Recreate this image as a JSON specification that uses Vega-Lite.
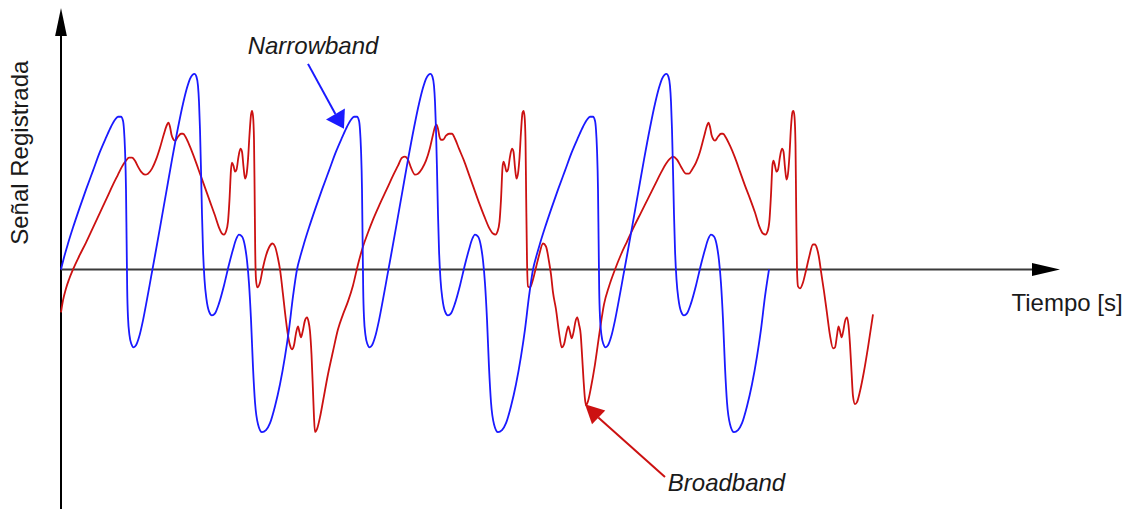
{
  "$schema": "https://vega.github.io/schema/vega-lite/v6.json",
  "width": 1138,
  "height": 510,
  "padding": 0,
  "autosize": {"type": "fit", "contains": "padding"},
  "background": "white",
  "config": {"view": {"stroke": null}},
  "datasets": {
    "blue": [
      {"t":0,"v":0},{"t":3,"v":12},{"t":7,"v":26},{"t":12,"v":42},{"t":18,"v":60},{"t":25,"v":80},{"t":32,"v":99},{"t":39,"v":118},{"t":45,"v":132},{"t":50,"v":143},{"t":54,"v":150},{"t":57,"v":153},{"t":60,"v":153},{"t":62,"v":149},{"t":63,"v":140},{"t":64,"v":120},{"t":65,"v":80},{"t":65.6,"v":30},{"t":66.2,"v":-20},{"t":67,"v":-48},{"t":68.5,"v":-66},{"t":70.5,"v":-75},{"t":72.5,"v":-78},{"t":75,"v":-76},{"t":78,"v":-68},{"t":82,"v":-51},{"t":86,"v":-30},{"t":90,"v":-8},{"t":94,"v":14},{"t":99,"v":42},{"t":105,"v":76},{"t":111,"v":110},{"t":117,"v":142},{"t":122,"v":166},{"t":126,"v":182},{"t":129,"v":191},{"t":131.5,"v":195},{"t":133.5,"v":196},{"t":135.5,"v":193},{"t":137,"v":184},{"t":138,"v":168},{"t":139,"v":140},{"t":140,"v":100},{"t":141,"v":55},{"t":142,"v":20},{"t":143.5,"v":-10},{"t":145.5,"v":-30},{"t":148,"v":-42},{"t":151,"v":-46},{"t":154,"v":-44},{"t":158,"v":-34},{"t":163,"v":-16},{"t":168,"v":5},{"t":172,"v":20},{"t":175,"v":30},{"t":178,"v":35},{"t":181,"v":33},{"t":184,"v":23},{"t":186,"v":9},{"t":188,"v":-14},{"t":190,"v":-50},{"t":192,"v":-98},{"t":194,"v":-133},{"t":197,"v":-155},{"t":201,"v":-163},{"t":205,"v":-161},{"t":209,"v":-154},{"t":214,"v":-137},{"t":219,"v":-115},{"t":224,"v":-87},{"t":228,"v":-60},{"t":232,"v":-27},{"t":236,"v":0},
      {"t":239,"v":12},{"t":243,"v":26},{"t":248,"v":42},{"t":254,"v":60},{"t":261,"v":80},{"t":268,"v":99},{"t":275,"v":118},{"t":281,"v":132},{"t":286,"v":143},{"t":290,"v":150},{"t":293,"v":153},{"t":296,"v":153},{"t":298,"v":149},{"t":299,"v":140},{"t":300,"v":120},{"t":301,"v":80},{"t":301.6,"v":30},{"t":302.2,"v":-20},{"t":303,"v":-48},{"t":304.5,"v":-66},{"t":306.5,"v":-75},{"t":308.5,"v":-78},{"t":311,"v":-76},{"t":314,"v":-68},{"t":318,"v":-51},{"t":322,"v":-30},{"t":326,"v":-8},{"t":330,"v":14},{"t":335,"v":42},{"t":341,"v":76},{"t":347,"v":110},{"t":353,"v":142},{"t":358,"v":166},{"t":362,"v":182},{"t":365,"v":191},{"t":367.5,"v":195},{"t":369.5,"v":196},{"t":371.5,"v":193},{"t":373,"v":184},{"t":374,"v":168},{"t":375,"v":140},{"t":376,"v":100},{"t":377,"v":55},{"t":378,"v":20},{"t":379.5,"v":-10},{"t":381.5,"v":-30},{"t":384,"v":-42},{"t":387,"v":-46},{"t":390,"v":-44},{"t":394,"v":-34},{"t":399,"v":-16},{"t":404,"v":5},{"t":408,"v":20},{"t":411,"v":30},{"t":414,"v":35},{"t":417,"v":33},{"t":420,"v":23},{"t":422,"v":9},{"t":424,"v":-14},{"t":426,"v":-50},{"t":428,"v":-98},{"t":430,"v":-133},{"t":433,"v":-155},{"t":437,"v":-163},{"t":441,"v":-161},{"t":445,"v":-154},{"t":450,"v":-137},{"t":455,"v":-115},{"t":460,"v":-87},{"t":464,"v":-60},{"t":468,"v":-27},{"t":472,"v":0},
      {"t":475,"v":12},{"t":479,"v":26},{"t":484,"v":42},{"t":490,"v":60},{"t":497,"v":80},{"t":504,"v":99},{"t":511,"v":118},{"t":517,"v":132},{"t":522,"v":143},{"t":526,"v":150},{"t":529,"v":153},{"t":532,"v":153},{"t":534,"v":149},{"t":535,"v":140},{"t":536,"v":120},{"t":537,"v":80},{"t":537.6,"v":30},{"t":538.2,"v":-20},{"t":539,"v":-48},{"t":540.5,"v":-66},{"t":542.5,"v":-75},{"t":544.5,"v":-78},{"t":547,"v":-76},{"t":550,"v":-68},{"t":554,"v":-51},{"t":558,"v":-30},{"t":562,"v":-8},{"t":566,"v":14},{"t":571,"v":42},{"t":577,"v":76},{"t":583,"v":110},{"t":589,"v":142},{"t":594,"v":166},{"t":598,"v":182},{"t":601,"v":191},{"t":603.5,"v":195},{"t":605.5,"v":196},{"t":607.5,"v":193},{"t":609,"v":184},{"t":610,"v":168},{"t":611,"v":140},{"t":612,"v":100},{"t":613,"v":55},{"t":614,"v":20},{"t":615.5,"v":-10},{"t":617.5,"v":-30},{"t":620,"v":-42},{"t":623,"v":-46},{"t":626,"v":-44},{"t":630,"v":-34},{"t":635,"v":-16},{"t":640,"v":5},{"t":644,"v":20},{"t":647,"v":30},{"t":650,"v":35},{"t":653,"v":33},{"t":656,"v":23},{"t":658,"v":9},{"t":660,"v":-14},{"t":662,"v":-50},{"t":664,"v":-98},{"t":666,"v":-133},{"t":669,"v":-155},{"t":673,"v":-163},{"t":677,"v":-161},{"t":681,"v":-154},{"t":686,"v":-137},{"t":691,"v":-115},{"t":696,"v":-87},{"t":700,"v":-60},{"t":704,"v":-27},{"t":708,"v":0}
    ],
    "red": [
      {"t":0,"v":-43},{"t":2,"v":-31},{"t":5,"v":-19},{"t":8,"v":-10},{"t":12,"v":0},{"t":18,"v":13},{"t":25,"v":27},{"t":32,"v":42},{"t":39,"v":57},{"t":46,"v":72},{"t":52,"v":85},{"t":57,"v":95},{"t":61,"v":103},{"t":65,"v":109},{"t":68,"v":112},{"t":71,"v":112},{"t":74,"v":109},{"t":77,"v":103},{"t":80,"v":98},{"t":84,"v":95},{"t":87,"v":96},{"t":91,"v":101},{"t":95,"v":110},{"t":99,"v":122},{"t":103,"v":136},{"t":106,"v":145},{"t":107.5,"v":147},{"t":109,"v":143},{"t":110.5,"v":135},{"t":112,"v":131},{"t":114,"v":129},{"t":117,"v":133},{"t":120,"v":136},{"t":122,"v":136},{"t":125,"v":132},{"t":129,"v":123},{"t":134,"v":110},{"t":139,"v":96},{"t":144,"v":82},{"t":149,"v":68},{"t":154,"v":54},{"t":158,"v":42},{"t":161,"v":36},{"t":163,"v":35},{"t":165,"v":38},{"t":167,"v":48},{"t":168.5,"v":70},{"t":170,"v":100},{"t":171,"v":107},{"t":172.5,"v":104},{"t":174,"v":98},{"t":175.5,"v":100},{"t":177.5,"v":113},{"t":179.5,"v":121},{"t":181,"v":118},{"t":182.5,"v":103},{"t":184,"v":91},{"t":185.5,"v":95},{"t":187,"v":110},{"t":188.5,"v":135},{"t":190,"v":155},{"t":191,"v":159},{"t":192,"v":154},{"t":193,"v":130},{"t":193.6,"v":80},{"t":194.2,"v":20},{"t":195,"v":-10},{"t":196.3,"v":-18},{"t":199,"v":-13},{"t":202,"v":2},{"t":205,"v":14},{"t":208,"v":22},{"t":211.5,"v":26},{"t":214,"v":23},{"t":217,"v":11},{"t":219,"v":0},{"t":222,"v":-25},{"t":224,"v":-43},{"t":227,"v":-66},{"t":229,"v":-76},{"t":231,"v":-80},{"t":233,"v":-76},{"t":235,"v":-64},{"t":237,"v":-57},{"t":238.5,"v":-63},{"t":240,"v":-68},{"t":241.5,"v":-63},{"t":244,"v":-51},{"t":246,"v":-48},{"t":247.5,"v":-52},{"t":249,"v":-62},{"t":250.5,"v":-85},{"t":252,"v":-122},{"t":253,"v":-148},{"t":254,"v":-163},{"t":256,"v":-160},{"t":259,"v":-148},{"t":262,"v":-132},{"t":267,"v":-105},{"t":272,"v":-82},{"t":277,"v":-60},{"t":282,"v":-45},{"t":287,"v":-32},{"t":292,"v":-16},{"t":297,"v":5},{"t":302,"v":23},{"t":307,"v":37},{"t":312,"v":50},{"t":319,"v":66},{"t":326,"v":81},{"t":332,"v":94},{"t":337,"v":104},{"t":341,"v":112},{"t":344,"v":113},{"t":347,"v":110},{"t":350,"v":102},{"t":354,"v":95},{"t":357,"v":96},{"t":361,"v":101},{"t":365,"v":109},{"t":369,"v":122},{"t":372,"v":135},{"t":374,"v":143},{"t":375.5,"v":145},{"t":377,"v":141},{"t":378.5,"v":133},{"t":380,"v":130},{"t":382,"v":130},{"t":385,"v":134},{"t":388,"v":136},{"t":391,"v":136},{"t":394,"v":131},{"t":398,"v":121},{"t":403,"v":109},{"t":408,"v":95},{"t":413,"v":81},{"t":418,"v":67},{"t":423,"v":54},{"t":428,"v":42},{"t":432,"v":36},{"t":434.5,"v":35},{"t":436.5,"v":38},{"t":438.5,"v":48},{"t":440,"v":70},{"t":441.5,"v":102},{"t":442.5,"v":108},{"t":444,"v":104},{"t":445.5,"v":98},{"t":447,"v":100},{"t":449,"v":113},{"t":451,"v":121},{"t":452.5,"v":118},{"t":454,"v":102},{"t":455.5,"v":91},{"t":457,"v":96},{"t":458.5,"v":112},{"t":460,"v":138},{"t":461.5,"v":157},{"t":462.5,"v":159},{"t":463.5,"v":154},{"t":464.5,"v":130},{"t":465.2,"v":70},{"t":466,"v":10},{"t":467,"v":-17},{"t":469,"v":-18},{"t":472,"v":-10},{"t":475,"v":2},{"t":478,"v":14},{"t":482,"v":26},{"t":485,"v":23},{"t":488,"v":8},{"t":490,"v":-5},{"t":492,"v":-23},{"t":495,"v":-40},{"t":498,"v":-63},{"t":500.7,"v":-78},{"t":503,"v":-75},{"t":505.5,"v":-63},{"t":507.3,"v":-57},{"t":509,"v":-63},{"t":510.7,"v":-69},{"t":512.5,"v":-63},{"t":514.5,"v":-52},{"t":516.3,"v":-48},{"t":518,"v":-55},{"t":519.7,"v":-65},{"t":521,"v":-85},{"t":522.5,"v":-110},{"t":524,"v":-130},{"t":525,"v":-136},{"t":527,"v":-132},{"t":530,"v":-118},{"t":534,"v":-95},{"t":539,"v":-60},{"t":543,"v":-35},{"t":548,"v":-17},{"t":554,"v":0},{"t":560,"v":15},{"t":566,"v":28},{"t":573,"v":43},{"t":580,"v":57},{"t":587,"v":71},{"t":594,"v":85},{"t":600,"v":97},{"t":605,"v":106},{"t":609,"v":111},{"t":612,"v":113},{"t":616,"v":110},{"t":620,"v":103},{"t":625,"v":96},{"t":628,"v":96},{"t":631,"v":100},{"t":635,"v":107},{"t":639,"v":118},{"t":643,"v":133},{"t":646,"v":144},{"t":647.5,"v":147},{"t":649,"v":143},{"t":650.5,"v":135},{"t":652,"v":131},{"t":654,"v":129},{"t":657,"v":133},{"t":660,"v":136},{"t":662,"v":136},{"t":665,"v":132},{"t":669,"v":124},{"t":674,"v":112},{"t":679,"v":98},{"t":684,"v":84},{"t":689,"v":71},{"t":694,"v":57},{"t":698,"v":44},{"t":702,"v":36},{"t":704.5,"v":35},{"t":706.5,"v":38},{"t":708.5,"v":50},{"t":710,"v":75},{"t":711.5,"v":105},{"t":712.5,"v":109},{"t":714,"v":104},{"t":715.5,"v":98},{"t":717,"v":100},{"t":719,"v":113},{"t":721,"v":121},{"t":722.5,"v":118},{"t":724,"v":102},{"t":725.5,"v":90},{"t":727,"v":96},{"t":728.5,"v":115},{"t":730,"v":143},{"t":731.5,"v":158},{"t":732.5,"v":159},{"t":733.5,"v":153},{"t":734.5,"v":125},{"t":735.2,"v":60},{"t":736,"v":0},{"t":737,"v":-17},{"t":739,"v":-19},{"t":742,"v":-13},{"t":745,"v":-1},{"t":748,"v":12},{"t":752,"v":25},{"t":754,"v":25},{"t":756,"v":21},{"t":758,"v":12},{"t":760,"v":-2},{"t":763,"v":-22},{"t":766,"v":-44},{"t":769,"v":-66},{"t":772,"v":-79},{"t":774,"v":-78},{"t":776,"v":-66},{"t":777.5,"v":-57},{"t":779,"v":-62},{"t":780.5,"v":-68},{"t":782,"v":-63},{"t":784,"v":-52},{"t":786,"v":-48},{"t":787.5,"v":-56},{"t":789,"v":-75},{"t":790.5,"v":-102},{"t":792,"v":-127},{"t":794,"v":-135},{"t":796,"v":-133},{"t":799,"v":-122},{"t":803,"v":-102},{"t":807,"v":-78},{"t":812,"v":-45}
    ]
  },
  "layer": [
    {
      "data": {"values": [{"t": 0, "v": -240, "t2": 0, "v2": 234}]},
      "mark": {"type": "rule", "color": "#000000", "strokeWidth": 2},
      "encoding": {
        "x": {"field": "t", "type": "quantitative", "scale": {"domain": [-61, 1077], "nice": false, "zero": false}, "axis": null},
        "y": {"field": "v", "type": "quantitative", "scale": {"domain": [-240, 270], "nice": false, "zero": false}, "axis": null},
        "x2": {"field": "t2"},
        "y2": {"field": "v2"}
      }
    },
    {
      "data": {"values": [{"t": 0, "v": 0, "t2": 973, "v2": 0}]},
      "mark": {"type": "rule", "color": "#3a3a3a", "strokeWidth": 2},
      "encoding": {
        "x": {"field": "t", "type": "quantitative"},
        "y": {"field": "v", "type": "quantitative"},
        "x2": {"field": "t2"},
        "y2": {"field": "v2"}
      }
    },
    {
      "data": {"values": [{"t": 0, "v": 248}]},
      "mark": {"type": "point", "shape": "M0,-1L0.42,1L-0.42,1Z", "size": 784, "filled": true, "color": "#000000", "opacity": 1, "strokeWidth": 0},
      "encoding": {"x": {"field": "t", "type": "quantitative"}, "y": {"field": "v", "type": "quantitative"}}
    },
    {
      "data": {"values": [{"t": 985, "v": 0}]},
      "mark": {"type": "point", "shape": "M1,0L-1,0.46L-1,-0.46Z", "size": 784, "filled": true, "color": "#000000", "opacity": 1, "strokeWidth": 0},
      "encoding": {"x": {"field": "t", "type": "quantitative"}, "y": {"field": "v", "type": "quantitative"}}
    },
    {
      "data": {"name": "red"},
      "mark": {"type": "line", "color": "#cc1111", "strokeWidth": 1.8, "interpolate": "monotone"},
      "encoding": {"x": {"field": "t", "type": "quantitative"}, "y": {"field": "v", "type": "quantitative"}, "order": {"field": "t", "type": "quantitative"}}
    },
    {
      "data": {"name": "blue"},
      "mark": {"type": "line", "color": "#1a1aff", "strokeWidth": 1.8, "interpolate": "monotone"},
      "encoding": {"x": {"field": "t", "type": "quantitative"}, "y": {"field": "v", "type": "quantitative"}, "order": {"field": "t", "type": "quantitative"}}
    },
    {
      "data": {"values": [{"t": 247, "v": 206, "t2": 274.4, "v2": 155.7}]},
      "mark": {"type": "rule", "color": "#1a1aff", "strokeWidth": 2},
      "encoding": {"x": {"field": "t", "type": "quantitative"}, "y": {"field": "v", "type": "quantitative"}, "x2": {"field": "t2"}, "y2": {"field": "v2"}}
    },
    {
      "data": {"values": [{"t": 278.7, "v": 148.4}]},
      "mark": {"type": "point", "shape": "M0,-1L1.28,1L-1.28,1Z", "size": 289, "angle": 150, "filled": true, "color": "#1a1aff", "opacity": 1, "strokeWidth": 0},
      "encoding": {"x": {"field": "t", "type": "quantitative"}, "y": {"field": "v", "type": "quantitative"}}
    },
    {
      "data": {"values": [{"t": 604, "v": -208, "t2": 537.3, "v2": -148.3}]},
      "mark": {"type": "rule", "color": "#cc1111", "strokeWidth": 2},
      "encoding": {"x": {"field": "t", "type": "quantitative"}, "y": {"field": "v", "type": "quantitative"}, "x2": {"field": "t2"}, "y2": {"field": "v2"}}
    },
    {
      "data": {"values": [{"t": 530.8, "v": -141.6}]},
      "mark": {"type": "point", "shape": "M0,-1L1,1L-1,1Z", "size": 361, "angle": 314, "filled": true, "color": "#cc1111", "opacity": 1, "strokeWidth": 0},
      "encoding": {"x": {"field": "t", "type": "quantitative"}, "y": {"field": "v", "type": "quantitative"}}
    },
    {
      "data": {"values": [{"t": 252, "v": 216, "label": "Narrowband"}, {"t": 665.5, "v": -222, "label": "Broadband"}]},
      "mark": {"type": "text", "font": "Liberation Sans", "fontSize": 24, "fontStyle": "italic", "color": "#1a1a1a", "align": "center", "baseline": "alphabetic"},
      "encoding": {"x": {"field": "t", "type": "quantitative"}, "y": {"field": "v", "type": "quantitative"}, "text": {"field": "label"}}
    },
    {
      "data": {"values": [{"t": 1006, "v": -42, "label": "Tiempo [s]"}]},
      "mark": {"type": "text", "font": "Liberation Sans", "fontSize": 24, "color": "#1a1a1a", "align": "center", "baseline": "alphabetic"},
      "encoding": {"x": {"field": "t", "type": "quantitative"}, "y": {"field": "v", "type": "quantitative"}, "text": {"field": "label"}}
    },
    {
      "data": {"values": [{"t": -33.5, "v": 117, "label": "Señal Registrada"}]},
      "mark": {"type": "text", "font": "Liberation Sans", "fontSize": 24, "angle": 270, "color": "#1a1a1a", "align": "center", "baseline": "alphabetic"},
      "encoding": {"x": {"field": "t", "type": "quantitative"}, "y": {"field": "v", "type": "quantitative"}, "text": {"field": "label"}}
    }
  ]
}
